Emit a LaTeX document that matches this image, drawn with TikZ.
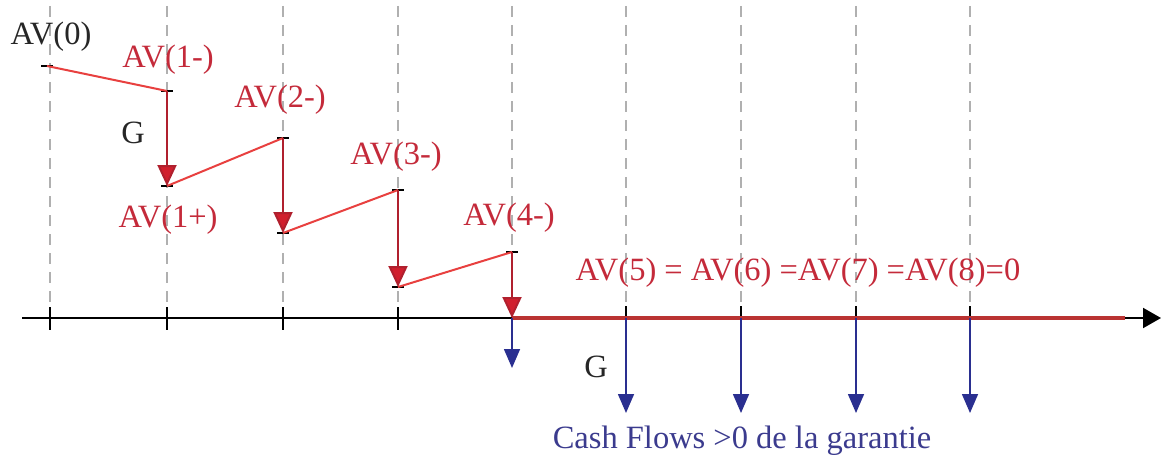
\documentclass[tikz,border=0pt]{standalone}
\usepackage{fontspec}
\setmainfont{Liberation Serif}
\usetikzlibrary{arrows.meta}
\definecolor{avred}{HTML}{C42A3A}
\definecolor{linered}{HTML}{E8403F}
\definecolor{darkred}{HTML}{B0202E}
\definecolor{headred}{HTML}{D11F2E}
\definecolor{cfblue}{HTML}{2A2F90}
\definecolor{txtblue}{HTML}{3B3B8E}
\definecolor{dashgray}{HTML}{B0B0B0}
\tikzset{
  lbl/.style={inner sep=0pt, font=\fontsize{32.5}{38}\selectfont},
  redlbl/.style={lbl, text=avred},
  blacklbl/.style={lbl, text=black!85},
  guide/.style={dashgray, line width=1.6pt, dash pattern=on 11pt off 8pt},
  seg/.style={linered, line width=2pt},
  drop/.style={darkred, line width=2pt, -{Triangle[width=19pt,length=21pt,fill=headred]}},
  cash/.style={cfblue, line width=1.6pt, -{Triangle[width=16pt,length=19pt,fill=cfblue]}},
  endtick/.style={black, line width=2pt},
  axtick/.style={black, line width=1.8pt}
}
\begin{document}
\begin{tikzpicture}[x=1pt,y=-1pt]
\useasboundingbox (0,0) rectangle (1161,460);
% guide lines
\foreach \x in {50,167,283,398,512,626,741,856,970}
  \draw[guide] (\x,6) -- (\x,318);
% axis
\coordinate (ax0) at (22,318);
\coordinate (axend) at (1161,318);
\coordinate (rz) at (1125,318);
\draw[black, line width=2pt, -{Triangle[width=20pt,length=18pt]}] (ax0) -- (axend);
% ticks
\foreach \x in {50,167,283,398}
  \draw[axtick] (\x,307) -- (\x,330);
\foreach \x in {626,741,856,970}
  \draw[axtick] (\x,306) -- (\x,318);
% points
\coordinate (p0) at (47,66);
\coordinate (p1m) at (167,91);
\coordinate (p1p) at (167,186);
\coordinate (p2m) at (283,138);
\coordinate (p2p) at (283,233);
\coordinate (p3m) at (398,190);
\coordinate (p3p) at (398,287);
\coordinate (p4m) at (512,252);
\coordinate (p4p) at (512,318);
% red zero line on axis
\draw[linered!80!black, line width=4pt] (p4p) -- (rz);
% endpoint ticks
\foreach \c in {p0,p1m,p1p,p2m,p2p,p3m,p3p,p4m}
  \draw[endtick] ([xshift=-6pt]\c) -- ([xshift=6pt]\c);
% segments
\draw[seg] (p0) -- (p1m);
\draw[seg] (p1p) -- (p2m);
\draw[seg] (p2p) -- (p3m);
\draw[seg] (p3p) -- (p4m);
% drops
\draw[drop] (p1m) -- (p1p);
\draw[drop] (p2m) -- (p2p);
\draw[drop] (p3m) -- (p3p);
\draw[drop] (p4m) -- (p4p);
% cash flows
\coordinate (c4) at (512,318);  \coordinate (c4e) at (512,368);
\coordinate (c5) at (626,318);  \coordinate (c5e) at (626,413);
\coordinate (c6) at (741,318);  \coordinate (c6e) at (741,413);
\coordinate (c7) at (856,318);  \coordinate (c7e) at (856,413);
\coordinate (c8) at (970,318);  \coordinate (c8e) at (970,413);
\draw[cash] (c4) -- (c4e);
\draw[cash] (c5) -- (c5e);
\draw[cash] (c6) -- (c6e);
\draw[cash] (c7) -- (c7e);
\draw[cash] (c8) -- (c8e);
% labels
\node[blacklbl] (lav0) at (51,37) {AV(0)};
\node[redlbl] (lav1m) at (168,60) {AV(1-)};
\node[blacklbl] (lg1) at (133,133) {G};
\node[redlbl] (lav1p) at (168,220) {AV(1+)};
\node[redlbl] (lav2m) at (280,100) {AV(2-)};
\node[redlbl] (lav3m) at (396,157) {AV(3-)};
\node[redlbl] (lav4m) at (509,218) {AV(4-)};
\node[redlbl] (lav5) at (798,273) {AV(5) = AV(6) =AV(7) =AV(8)=0};
\node[blacklbl] (lg2) at (596,367) {G};
\node[lbl, text=txtblue] (lcf) at (742,441) {Cash Flows >0 de la garantie};
\end{tikzpicture}
\end{document}
